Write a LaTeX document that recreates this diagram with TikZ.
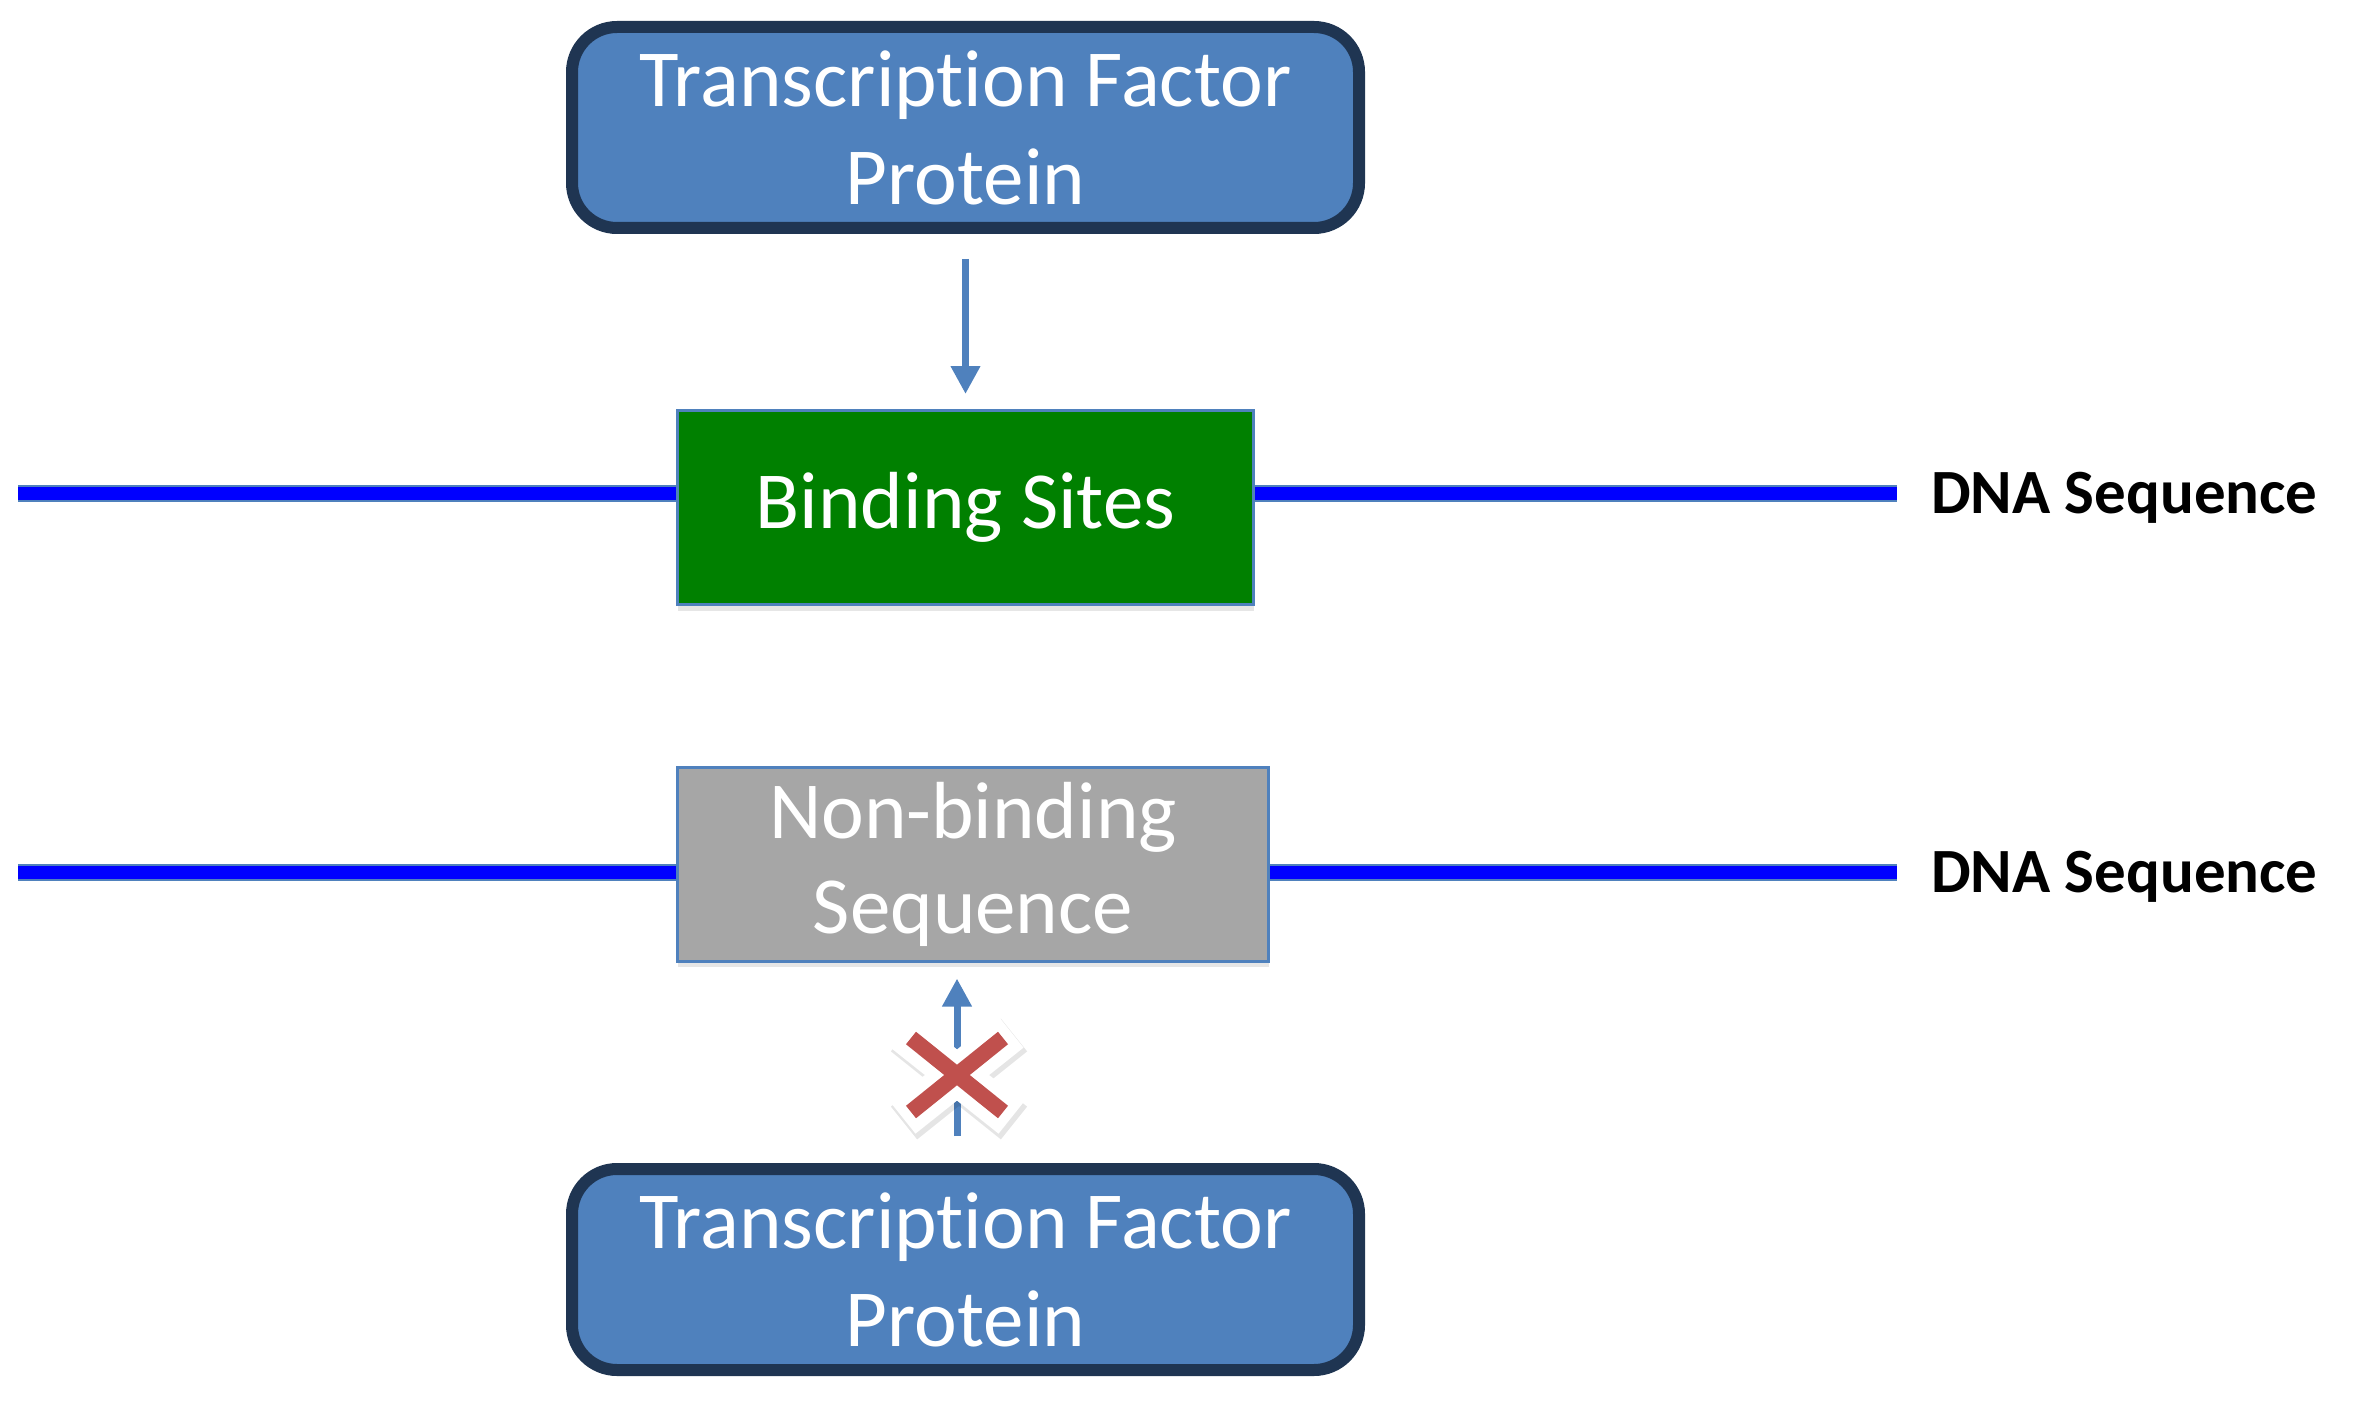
\documentclass[tikz,border=0pt]{standalone}
\usepackage{fontspec}
\setmainfont{Carlito}[Ligatures=NoCommon]
\usetikzlibrary{arrows.meta,shadows,calc}
\definecolor{tfblue}{HTML}{4F81BD}
\definecolor{tfborder}{HTML}{1F3552}
\definecolor{siteg}{HTML}{008000}
\definecolor{nbgray}{HTML}{A6A6A6}
\definecolor{xred}{HTML}{C0504D}
\pgfdeclarelayer{bg}
\pgfsetlayers{bg,main}
\tikzset{
  tfbox/.style={draw=tfborder, line width=12pt, fill=tfblue, rounded corners=45pt,
    minimum width=787pt, minimum height=201pt, text=white, inner sep=0pt,
    font=\fontsize{81}{98}\selectfont, align=center,
    drop shadow={shadow xshift=0pt, shadow yshift=-5pt, opacity=0.2}},
  sitebox/.style={draw=tfblue, line width=3pt, minimum height=194pt, text=white,
    inner sep=0pt, font=\fontsize{81}{95}\selectfont, align=center,
    drop shadow={shadow xshift=0pt, shadow yshift=-6pt, opacity=0.2}},
  dnaline/.style={draw=tfblue, line width=2pt, double=blue, double distance=13pt},
  dnalabel/.style={font=\bfseries\fontsize{63}{75}\selectfont, text=black, inner sep=0pt},
  arr/.style={draw=tfblue, line width=7pt, -{Triangle[length=28pt,width=28pt]}}
}
\begin{document}
\begin{tikzpicture}[x=1pt,y=-1pt]
\useasboundingbox (0,0) rectangle (2365,1420);
% nodes
\node[tfbox] (tf1) at (965.5,127.5) {Transcription Factor\\Protein};
\node[sitebox, fill=siteg, minimum width=576pt] (bind) at (965.5,507.5) {Binding Sites};
\node[sitebox, fill=nbgray, minimum width=591pt] (nonbind) at (973,864) {Non-binding\\Sequence};
\node[tfbox] (tf2) at (965.5,1269.5) {Transcription Factor\\Protein};
\node[dnalabel, anchor=base west] (lab1) at (1931,513) {DNA Sequence};
\node[dnalabel, anchor=base west] (lab2) at (1931,892) {DNA Sequence};
% DNA lines
\coordinate (d1l) at (18,493);
\coordinate (d1r) at (1897,493);
\coordinate (d2l) at (18,872);
\coordinate (d2r) at (1897,872);
\begin{pgfonlayer}{bg}
\draw[dnaline] (d1l) -- (d1l -| bind.west);
\draw[dnaline] (bind.east |- d1r) -- (d1r);
\draw[dnaline] (d2l) -- (d2l -| nonbind.west);
\draw[dnaline] (nonbind.east |- d2r) -- (d2r);
\end{pgfonlayer}
% arrows
\draw[arr, shorten <=25pt, shorten >=15pt] (tf1.south) -- (tf1.south |- bind.north);
\coordinate (xm) at (957,1075);
\draw[arr, shorten <=27pt, shorten >=16pt] (xm |- tf2.north) -- (xm |- nonbind.south);
% cross mark
\begin{scope}[shift={(xm)}]
  \begin{scope}[transparency group, opacity=0.1, shift={(2,4)}]
    \draw[black, line width=42pt] (-55,-44) -- (55,44);
    \draw[black, line width=42pt] (55,-44) -- (-55,44);
  \end{scope}
  \draw[white, line width=40pt] (-54,-43) -- (54,43);
  \draw[white, line width=40pt] (54,-43) -- (-54,43);
  \draw[xred, line width=16pt] (-46,-37) -- (46,37);
  \draw[xred, line width=16pt] (46,-37) -- (-46,37);
\end{scope}
\end{tikzpicture}
\end{document}
